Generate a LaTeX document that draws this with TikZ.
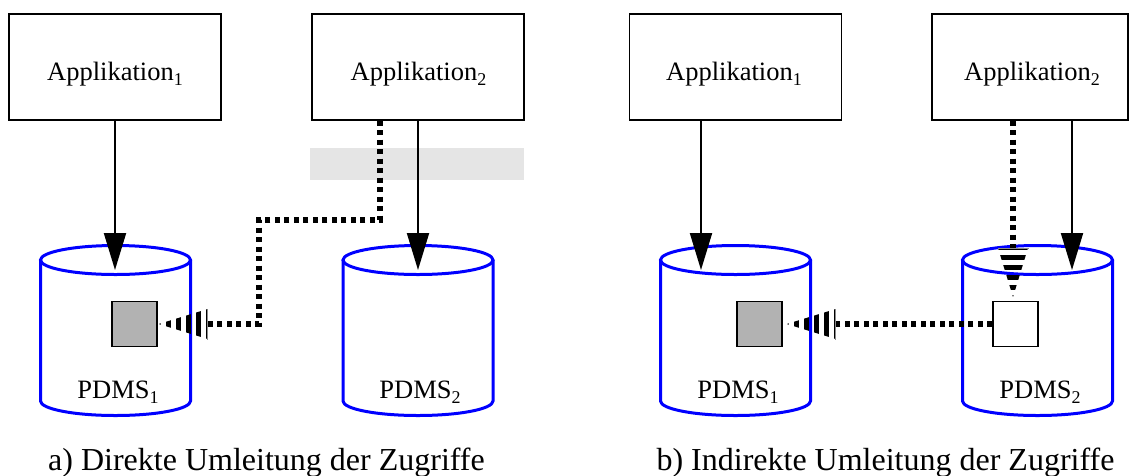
\documentclass[tikz,border=0pt]{standalone}
\usepackage{fontspec}
\setmainfont{Liberation Serif}
\usetikzlibrary{arrows.meta}
\definecolor{sqgray}{RGB}{178,178,178}
\definecolor{bandgray}{RGB}{229,229,229}
\definecolor{cylblue}{RGB}{0,0,255}
\newcommand\lblsub[1]{\raisebox{-5pt}{\fontsize{18}{18}\selectfont #1}}
\tikzset{
 stripehead/.pic={
  \begin{scope}
   \clip (0,0) -- (-49,15) -- (-49,-15) -- cycle;
   \draw[line width=34pt, dash pattern=on 5pt off 5pt, dash phase=3pt] (0,0) -- (-49,0);
  \end{scope}
  \draw[black!45, line width=0.8pt] (-49,-15.5) -- (-49,15.5);
 }
}
\begin{document}
\begin{tikzpicture}[x=1pt,y=-1pt,
 appbox/.style={draw=black, line width=1.3pt, fill=white, minimum width=212pt, minimum height=106pt, inner sep=0pt},
 lbl/.style={font=\fontsize{26.5}{30}\selectfont, inner sep=0pt, anchor=base},
 captext/.style={font=\fontsize{32}{38}\selectfont, inner sep=0pt, anchor=base},
 cyl/.style={draw=cylblue, line width=3pt},
 sq/.style={draw=black, line width=1.3pt, minimum size=45pt, inner sep=0pt},
 solidarrow/.style={line width=2pt, -{Triangle[length=37pt,width=22pt]}},
 dashconn/.style={line width=6pt, dash pattern=on 5pt off 4.5pt}
]
\useasboundingbox (0,0) rectangle (1138,475);

% gray band
\fill[bandgray] (310,148) rectangle (524,180);

% application boxes
\node[appbox] (a1) at (115,67) {};
\node[appbox] (a2) at (418,67) {};
\node[appbox] (b1) at (735.5,67) {};
\node[appbox, minimum width=196pt] (b2) at (1030,67) {};
\node[lbl] (a1t) at (115,80) {Applikation\lblsub{1}};
\node[lbl] (a2t) at (418.5,80) {Applikation\lblsub{2}};
\node[lbl] (b1t) at (734,80) {Applikation\lblsub{1}};
\node[lbl] (b2t) at (1032,80) {Applikation\lblsub{2}};

% cylinders
\foreach \cx in {115.5,418,735.5,1037.5}{
 \draw[cyl] (\cx,260) ellipse [x radius=75, y radius=14.5];
 \draw[cyl] (\cx-75,260) -- (\cx-75,401) arc[start angle=180, end angle=0, x radius=75, y radius=14.5] -- (\cx+75,260);
}
\node[lbl] (p1) at (118,398) {PDMS\lblsub{1}};
\node[lbl] (p2) at (420,398) {PDMS\lblsub{2}};
\node[lbl] (p3) at (738,398) {PDMS\lblsub{1}};
\node[lbl] (p4) at (1040,398) {PDMS\lblsub{2}};

% squares
\node[sq, fill=sqgray] (g1) at (134.5,324) {};
\node[sq, fill=sqgray] (g2) at (759.5,324) {};
\node[sq, fill=white] (w2) at (1015.5,324) {};

% solid arrows
\coordinate (c1in) at (115,270);
\coordinate (c2in) at (418,270);
\coordinate (c3in) at (701,270);
\coordinate (c4in) at (1072,270);
\draw[solidarrow] (a1.south) -- (c1in);
\draw[solidarrow] (a2.south) -- (c2in);
\draw[solidarrow] (c3in |- b1.south) -- (c3in);
\draw[solidarrow] (c4in |- b2.south) -- (c4in);

% dashed connector, left panel
\coordinate (k1) at (380,220);
\coordinate (k2) at (259,324);
\coordinate (t1) at ([xshift=1pt]g1.east);
\draw[dashconn] (k1 |- a2.south) -- (k1) -| (k2) -- ([xshift=49pt]t1);
\pic[rotate=180] at (t1) {stripehead};

% dashed connectors, right panel
\coordinate (t2) at ([xshift=4pt]g2.east);
\draw[dashconn] (w2.west) -- ([xshift=49pt]t2);
\pic[rotate=180] at (t2) {stripehead};
\coordinate (vx) at (1013,0);
\coordinate (t3) at (1013,297);
\draw[dashconn] (vx |- b2.south) -- ([yshift=49pt]t3);
\pic[rotate=-90] at (t3) {stripehead};

% captions
\node[captext] (capa) at (266.5,470) {a) Direkte Umleitung der Zugriffe};
\node[captext] (capb) at (885.5,470) {b) Indirekte Umleitung der Zugriffe};
\end{tikzpicture}
\end{document}
